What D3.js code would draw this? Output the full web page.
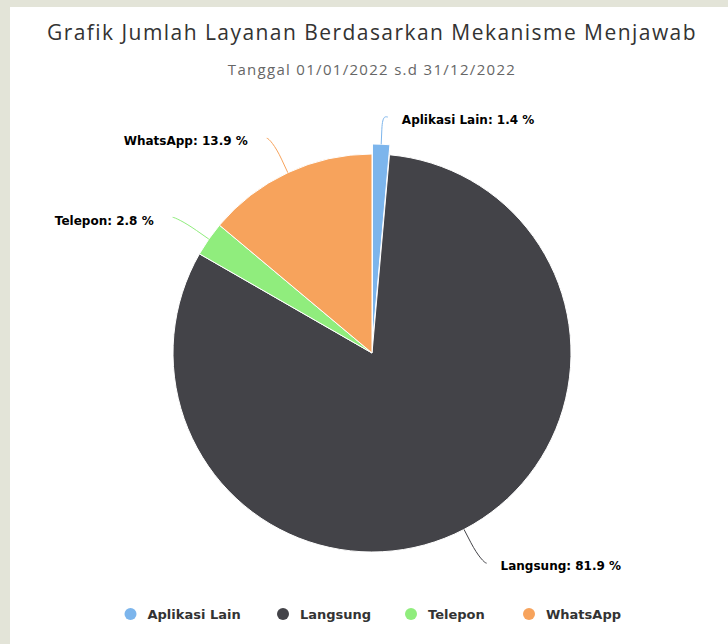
<!DOCTYPE html>
<html>
<head>
<meta charset="utf-8">
<script src="https://cdn.jsdelivr.net/npm/d3@7"></script>
<style>
  html, body { margin: 0; padding: 0; background: #e3e4d8; }
  svg { display: block; }
</style>
</head>
<body>
<svg id="chart" width="728" height="644"></svg>
<script>
// Share of services by response channel, 2022 (percent)
const categories = ["Aplikasi Lain", "Langsung", "Telepon", "WhatsApp"];
const shares = [1.4, 81.9, 2.8, 13.9];
const colors = ["#7cb5ec", "#434348", "#90ed7d", "#f7a35c"];
const slicedOut = ["Aplikasi Lain"];
const titleText = "Grafik Jumlah Layanan Berdasarkan Mekanisme Menjawab";
const subtitleText = "Tanggal 01/01/2022 s.d 31/12/2022";

const W = 728, H = 644;
const svg = d3.select("#chart");

// page background and white card
svg.append("rect").attr("width", W).attr("height", H).attr("fill", "#e3e4d8");
svg.append("rect").attr("x", 10).attr("y", 7).attr("width", W - 10).attr("height", H - 7).attr("fill", "#ffffff");

const labelFont = "'DejaVu Sans', 'Lucida Grande', sans-serif";
const titleFont = "'Open Sans', 'Noto Sans', sans-serif";

svg.append("text")
  .attr("x", 372).attr("y", 40)
  .attr("text-anchor", "middle")
  .attr("font-family", titleFont)
  .attr("font-size", 21)
  .attr("letter-spacing", 1.45)
  .attr("fill", "#333333")
  .text(titleText);

svg.append("text")
  .attr("x", 372).attr("y", 75)
  .attr("text-anchor", "middle")
  .attr("font-family", titleFont)
  .attr("font-size", 15)
  .attr("letter-spacing", 1.3)
  .attr("fill", "#666666")
  .text(subtitleText);

const cx = 372, cy = 353, R = 199;
const sliceOffset = 10;
const plotTop = 117;

const data = categories.map((c, i) => ({ name: c, value: shares[i], color: colors[i] }));
const pie = d3.pie().sort(null).value(d => d.value).startAngle(0).endAngle(2 * Math.PI);
const arcs = pie(data);
const arc = d3.arc().innerRadius(0).outerRadius(R);

const g = svg.append("g").attr("transform", `translate(${cx},${cy})`);

arcs.forEach(a => {
  const mid = (a.startAngle + a.endAngle) / 2;
  a.mid = mid;
  a.ux = Math.sin(mid);
  a.uy = -Math.cos(mid);
  const off = slicedOut.includes(a.data.name) ? sliceOffset : 0;
  a.ox = a.ux * off;
  a.oy = a.uy * off;
});

g.selectAll("path.slice")
  .data(arcs)
  .join("path")
  .attr("class", "slice")
  .attr("transform", d => `translate(${d.ox},${d.oy})`)
  .attr("d", arc)
  .attr("fill", d => d.data.color)
  .attr("stroke", "#ffffff")
  .attr("stroke-width", 1)
  .attr("stroke-linejoin", "round");

// data labels with soft connectors
const labelG = svg.append("g");
arcs.forEach(a => {
  const ocx = cx + a.ox, ocy = cy + a.oy;
  const right = a.mid < Math.PI;
  const side = right ? 1 : -1;
  const p1 = [ocx + a.ux * R, ocy + a.uy * R];
  const brk = [ocx + a.ux * (R + 15), ocy + a.uy * (R + 15)];
  const ex = ocx + a.ux * (R + 38) + side * 5;
  const ey = Math.max(plotTop, ocy + a.uy * (R + 38));
  const path = d3.path();
  path.moveTo(ex, ey);
  path.bezierCurveTo(ex - side * 2, ey, 2 * brk[0] - p1[0], 2 * brk[1] - p1[1], brk[0], brk[1]);
  path.lineTo(p1[0], p1[1]);
  labelG.append("path")
    .attr("d", path.toString())
    .attr("fill", "none")
    .attr("stroke", a.data.color)
    .attr("stroke-width", 1);
  labelG.append("text")
    .attr("x", ex + (right ? 14 : -19))
    .attr("y", ey + 3)
    .attr("dy", "0.35em")
    .attr("text-anchor", right ? "start" : "end")
    .attr("font-family", labelFont)
    .attr("font-size", 12)
    .attr("font-weight", "bold")
    .attr("fill", "#000000")
    .text(`${a.data.name}: ${a.data.value} %`);
});

// legend
const legendX = [130.5, 283, 411, 529];
const legendY = 614;
const lg = svg.append("g");
data.forEach((d, i) => {
  lg.append("circle")
    .attr("cx", legendX[i]).attr("cy", legendY).attr("r", 6)
    .attr("fill", d.color);
  lg.append("text")
    .attr("x", legendX[i] + 17).attr("y", legendY)
    .attr("dy", "0.35em")
    .attr("font-family", labelFont)
    .attr("font-size", 13)
    .attr("font-weight", "bold")
    .attr("fill", "#333333")
    .text(d.name);
});
</script>
</body>
</html>
